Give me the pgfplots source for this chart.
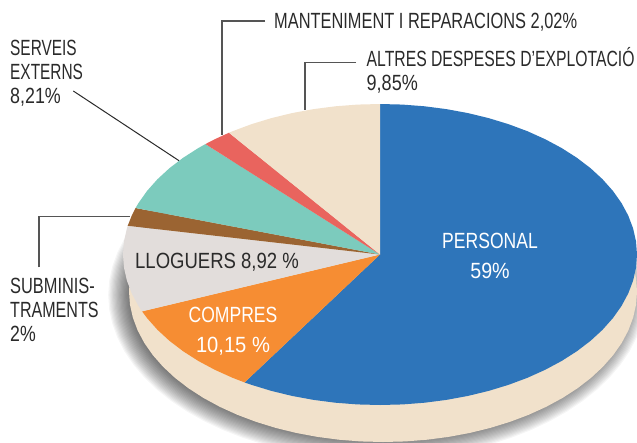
\documentclass[border=0pt]{standalone}
\usepackage{fontspec}
\setmainfont[FakeStretch=0.745]{Liberation Sans}
\usepackage{graphicx}
\usepackage{pgfplots}
\usepackage{pgfplotstable}
\pgfplotsset{compat=1.18}
\definecolor{cBlue}{HTML}{2E75BA}
\definecolor{cOrange}{HTML}{F68D33}
\definecolor{cGrey}{HTML}{E2DDDB}
\definecolor{cBrown}{HTML}{9B6432}
\definecolor{cTeal}{HTML}{7CCBBD}
\definecolor{cRed}{HTML}{E9645E}
\definecolor{cCream}{HTML}{F1E1CB}
\definecolor{cText}{HTML}{2A2A2A}
\definecolor{cLine}{HTML}{555555}
\pgfplotstableread{
c s
1 0
.9962 .0872
.9848 .1736
.9659 .2588
.9397 .3420
.9063 .4226
.8660 .5
.8192 .5736
.7660 .6428
.7071 .7071
.6428 .7660
.5736 .8192
.5 .8660
.4226 .9063
.3420 .9397
.2588 .9659
.1736 .9848
.0872 .9962
0 1
-.0872 .9962
-.1736 .9848
-.2588 .9659
-.3420 .9397
-.4226 .9063
-.5 .8660
-.5736 .8192
-.6428 .7660
-.7071 .7071
-.7660 .6428
-.8192 .5736
-.8660 .5
-.9063 .4226
-.9397 .3420
-.9659 .2588
-.9848 .1736
-.9962 .0872
-1 0
-.9962 -.0872
-.9848 -.1736
-.9659 -.2588
-.9397 -.3420
-.9063 -.4226
-.8660 -.5
-.8192 -.5736
-.7660 -.6428
-.7071 -.7071
-.6428 -.7660
-.5736 -.8192
-.5 -.8660
-.4226 -.9063
-.3420 -.9397
-.2588 -.9659
-.1736 -.9848
-.0872 -.9962
0 -1
.0872 -.9962
.1736 -.9848
.2588 -.9659
.3420 -.9397
.4226 -.9063
.5 -.8660
.5736 -.8192
.6428 -.7660
.7071 -.7071
.7660 -.6428
.8192 -.5736
.8660 -.5
.9063 -.4226
.9397 -.3420
.9659 -.2588
.9848 -.1736
.9962 -.0872
}\ringT
\pgfplotstableread{
c s
0 0
0 1
.0872 .9962
.1736 .9848
.2588 .9659
.3420 .9397
.4226 .9063
.5 .8660
.5736 .8192
.6428 .7660
.7071 .7071
.7660 .6428
.8192 .5736
.8660 .5
.9063 .4226
.9397 .3420
.9659 .2588
.9848 .1736
.9962 .0872
1 0
.9962 -.0872
.9848 -.1736
.9659 -.2588
.9397 -.3420
.9063 -.4226
.8660 -.5
.8192 -.5736
.7660 -.6428
.7071 -.7071
.6428 -.7660
.5736 -.8192
.5 -.8660
.4226 -.9063
.3420 -.9397
.2588 -.9659
.1736 -.9848
.0872 -.9962
0 -1
-.0872 -.9962
-.1736 -.9848
-.2588 -.9659
-.3420 -.9397
-.4226 -.9063
-.5 -.8660
-.527 -.850
}\sliceBlue
\pgfplotstableread{
c s
0 0
-.527 -.850
-.5736 -.8192
-.6428 -.7660
-.7071 -.7071
-.7660 -.6428
-.8192 -.5736
-.8660 -.5
-.9063 -.4226
-.9259 -.3778
}\sliceOrange
\pgfplotstableread{
c s
0 0
-.9259 -.3778
-.9397 -.3420
-.9659 -.2588
-.9848 -.1736
-.9962 -.0872
-1 0
-.9962 .0872
-.9848 .1736
-.9816 .1908
}\sliceGrey
\pgfplotstableread{
c s
0 0
-.9816 .1908
-.9659 .2588
-.9511 .3090
}\sliceBrown
\pgfplotstableread{
c s
0 0
-.9511 .3090
-.9397 .3420
-.9063 .4226
-.8660 .5
-.8192 .5736
-.7660 .6428
-.7071 .7071
-.6794 .7337
}\sliceTeal
\pgfplotstableread{
c s
0 0
-.6794 .7337
-.6428 .7660
-.5878 .8090
}\sliceRed
\pgfplotstableread{
c s
0 0
-.5878 .8090
-.5736 .8192
-.5 .8660
-.4226 .9063
-.3420 .9397
-.2588 .9659
-.1736 .9848
-.0872 .9962
0 1
}\sliceCream
\pgfplotsset{face/.style={draw=none, forget plot}}
\tikzset{lbl/.style={anchor=base west, inner sep=0pt, text=cText, font=\fontsize{22}{24}\selectfont},
  lblc/.style={anchor=base, inner sep=0pt, font=\fontsize{22}{24}\selectfont}}
\newcommand{\sx}[2]{\scalebox{#1}[1]{#2}}
\begin{document}
\begin{tikzpicture}
\begin{axis}[name=cur, scale only axis, width=637pt, height=442pt,
  xmin=0, xmax=637, ymin=0, ymax=442, y dir=reverse,
  axis lines=none, clip mode=individual]
% shadow
\pgfplotsinvokeforeach{0,...,19}{
  \addplot[face, fill=black, fill opacity=0.04] table[x expr=377+(246+1.2*#1)*\thisrow{c}, y expr=295-(142+1.2*#1)*\thisrow{s}] {\ringT} -- cycle;
}
% side
\addplot[face, fill=cCream] table[x expr=383+254*\thisrow{c}, y expr=291.5-150.5*\thisrow{s}] {\ringT} -- cycle;
% top
\addplot[face, fill=cBlue] table[x expr=380+257*\thisrow{c}, y expr=254.5-150.5*\thisrow{s}] {\sliceBlue} -- cycle;
\addplot[face, fill=cOrange] table[x expr=380+257*\thisrow{c}, y expr=254.5-150.5*\thisrow{s}] {\sliceOrange} -- cycle;
\addplot[face, fill=cGrey] table[x expr=380+257*\thisrow{c}, y expr=254.5-150.5*\thisrow{s}] {\sliceGrey} -- cycle;
\addplot[face, fill=cBrown] table[x expr=380+257*\thisrow{c}, y expr=254.5-150.5*\thisrow{s}] {\sliceBrown} -- cycle;
\addplot[face, fill=cTeal] table[x expr=380+257*\thisrow{c}, y expr=254.5-150.5*\thisrow{s}] {\sliceTeal} -- cycle;
\addplot[face, fill=cRed] table[x expr=380+257*\thisrow{c}, y expr=254.5-150.5*\thisrow{s}] {\sliceRed} -- cycle;
\addplot[face, fill=cCream] table[x expr=380+257*\thisrow{c}, y expr=254.5-150.5*\thisrow{s}] {\sliceCream} -- cycle;
% leaders
\addplot[cLine, line width=1.1pt, forget plot] coordinates {(265,21) (222,21) (222,135)};
\addplot[cLine, line width=1.1pt, forget plot] coordinates {(356,62.7) (305,62.7) (305,110)};
\addplot[cLine, line width=1.1pt, forget plot] coordinates {(39,267.3) (39,216.7) (130,216.7)};
\addplot[cText, line width=1pt, forget plot] coordinates {(73.3,91) (179,160.7)};
% text
\node[lbl] at (axis cs:274,28.3) {MANTENIMENT I REPARACIONS 2,02\%};
\node[lbl] at (axis cs:366.5,66) {\sx{0.96}{ALTRES DESPESES D’EXPLOTACIÓ}};
\node[lbl] at (axis cs:366.5,90) {\sx{1.1}{9,85\%}};
\node[lbl] at (axis cs:10,55) {\sx{0.94}{SERVEIS}};
\node[lbl] at (axis cs:10,79) {\sx{0.94}{EXTERNS}};
\node[lbl] at (axis cs:10,103) {\sx{1.09}{8,21\%}};
\node[lbl] at (axis cs:10,293) {SUBMINIS-};
\node[lbl] at (axis cs:10,317) {\sx{0.98}{TRAMENTS}};
\node[lbl] at (axis cs:10,341) {\sx{1.08}{2\%}};
\node[lbl] at (axis cs:135,268) {\sx{1.13}{LLOGUERS 8,92 \%}};
\node[lblc, text=white] at (axis cs:233,322) {\sx{1.07}{COMPRES}};
\node[lblc, text=white] at (axis cs:233,352) {\sx{1.23}{10,15 \%}};
\node[lblc, text=white] at (axis cs:490,248) {\sx{1.07}{PERSONAL}};
\node[lblc, text=white] at (axis cs:490,278) {\sx{1.2}{59\%}};
\end{axis}
\pgfresetboundingbox
\useasboundingbox (cur.south west) rectangle (cur.north east);
\end{tikzpicture}
\end{document}
